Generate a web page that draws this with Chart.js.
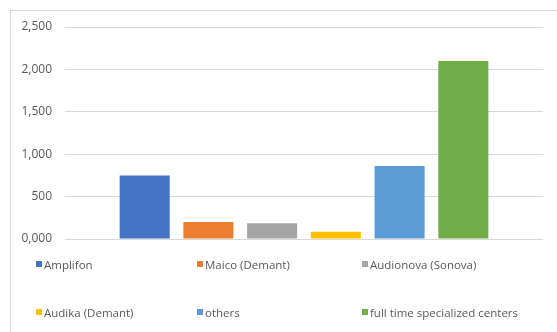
<!DOCTYPE html>
<html>
<head>
<meta charset="utf-8">
<script src="https://cdn.jsdelivr.net/npm/chart.js@4"></script>
<style>
  html, body { margin: 0; padding: 0; background: #fff; }
  #wrap { position: relative; width: 557px; height: 332px; overflow: hidden; }
  #frame {
    position: absolute; left: 10px; top: 10px; width: 600px; height: 400px;
    border-left: 1px solid #d9d9d9; border-top: 1px solid #d9d9d9;
  }
  canvas { position: absolute; left: 0; top: 0; }
  #legend {
    position: absolute; left: 36px; top: 256px;
    display: grid; grid-template-columns: 161px 165px auto;
    grid-auto-rows: 48px;
    font: 11.5px "Open Sans", sans-serif; color: #595959;
  }
  #legend span.item { display: flex; align-items: center; height: 16px; white-space: nowrap; }
  #legend i { display: inline-block; width: 6px; height: 6px; margin-right: 2px; }
</style>
</head>
<body>
<div id="wrap">
  <div id="frame"></div>
  <canvas id="chart" width="557" height="332"></canvas>
  <div id="legend"></div>
</div>
<script>
const companies = ['Amplifon', 'Maico (Demant)', 'Audionova (Sonova)', 'Audika (Demant)', 'others', 'full time specialized centers']
const centers = [750, 200, 185, 85, 860, 2100]
const colors = ['#4472c4', '#ed7d31', '#a5a5a5', '#ffc000', '#5b9bd5', '#70ad47']

const chart = new Chart(document.getElementById('chart'), {
  type: 'bar',
  data: {
    labels: [''],
    datasets: companies.map((name, i) => ({
      label: name,
      data: [centers[i]],
      backgroundColor: colors[i],
      categoryPercentage: 0.8,
      barPercentage: 0.785,
    })),
  },
  options: {
    responsive: false,
    animation: false,
    layout: { padding: { top: 27, right: 14, bottom: 93, left: 0 } },
    plugins: { legend: { display: false }, tooltip: { enabled: false } },
    scales: {
      x: { display: false },
      y: {
        min: 0,
        max: 2500,
        border: { display: false },
        grid: { color: '#d9d9d9', drawTicks: false },
        afterFit: (scale) => { scale.width = 65 },
        ticks: {
          stepSize: 500,
          padding: 13,
          color: '#595959',
          font: { family: 'Open Sans', size: 12 },
          callback: (v) => (v === 0 ? '0,000' : v.toLocaleString('en-US')),
        },
      },
    },
  },
})

// legend in three columns, like the original
const legend = document.getElementById('legend')
chart.data.datasets.forEach((ds) => {
  const item = document.createElement('span')
  item.className = 'item'
  const box = document.createElement('i')
  box.style.background = ds.backgroundColor
  item.appendChild(box)
  item.appendChild(document.createTextNode(ds.label))
  legend.appendChild(item)
})
</script>
</body>
</html>
